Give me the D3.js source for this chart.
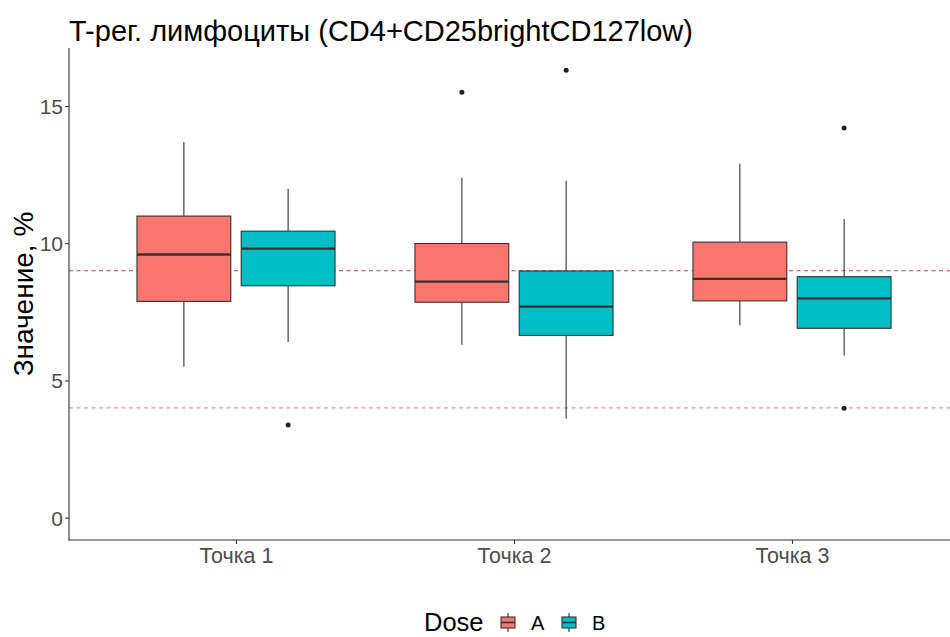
<!DOCTYPE html>
<html>
<head>
<meta charset="utf-8">
<script src="https://cdn.jsdelivr.net/npm/d3@7"></script>
<style>
  html, body { margin: 0; padding: 0; background: #fff; }
  svg { display: block; font-family: "Liberation Sans", Arial, sans-serif; }
</style>
</head>
<body>
<svg id="chart" width="950" height="637"></svg>
<script>
// Categories and groups
const categories = ["Точка 1", "Точка 2", "Точка 3"];
const doses = ["A", "B"];
const doseColors = ["#F8766D", "#00BFC4"];

// Box statistics per dose, one entry per category
const lowerA  = [5.50, 6.30, 7.00];
const q1A     = [7.88, 7.85, 7.90];
const medianA = [9.59, 8.60, 8.70];
const q3A     = [10.99, 9.99, 10.04];
const upperA  = [13.69, 12.39, 12.90];

const lowerB  = [6.40, 3.60, 5.90];
const q1B     = [8.45, 6.64, 6.90];
const medianB = [9.80, 7.69, 7.99];
const q3B     = [10.44, 8.99, 8.78];
const upperB  = [11.99, 12.28, 10.88];

// Outliers: category, dose, value
const outlierCategory = ["Точка 1", "Точка 2", "Точка 2", "Точка 3", "Точка 3"];
const outlierDose     = ["B", "A", "B", "B", "B"];
const outlierValue    = [3.38, 15.50, 16.30, 14.20, 3.99];

// Reference lines
const refValues = [9, 4];
const refColors = ["#d63c3c", "#e89898"];

const yTicks = [0, 5, 10, 15];
const titleText = "T-рег. лимфоциты (CD4+CD25brightCD127low)";
const yTitle = "Значение, %";
const legendTitle = "Dose";

// Assemble rows for drawing
const stats = [];
categories.forEach((c, i) => {
  stats.push({cat: c, dose: "A", lower: lowerA[i], q1: q1A[i], median: medianA[i], q3: q3A[i], upper: upperA[i]});
  stats.push({cat: c, dose: "B", lower: lowerB[i], q1: q1B[i], median: medianB[i], q3: q3B[i], upper: upperB[i]});
});
const outliers = outlierValue.map((v, i) => ({cat: outlierCategory[i], dose: outlierDose[i], value: v}));

const svg = d3.select("#chart");
const panel = {left: 69, top: 48, bottom: 540};
const FONT = "Liberation Sans, Arial, sans-serif";

// y domain with 5% expansion around [0, max]
const yMax = d3.max([...upperA, ...upperB, ...outlierValue]);
const pad = yMax * 0.05;
const y = d3.scaleLinear().domain([-pad, yMax + pad]).range([panel.bottom, panel.top]);

// discrete x positions
const step = 278;
const x0 = 236;
const x = d3.scalePoint().domain(categories).range([x0, x0 + step * (categories.length - 1)]);
const dodge = d3.scaleBand().domain(doses).range([-0.375 * step, 0.375 * step]).paddingInner(0);
const color = d3.scaleOrdinal().domain(doses).range(doseColors);
const boxW = 0.3375 * step;

const g = svg.append("g");

// Reference lines
g.selectAll("line.ref").data(refValues).join("line")
  .attr("class", "ref")
  .attr("x1", panel.left).attr("x2", 950)
  .attr("y1", d => y(d)).attr("y2", d => y(d))
  .attr("stroke", (d, i) => refColors[i])
  .attr("stroke-width", 1.1)
  .attr("stroke-dasharray", "4,3.5");

const cx = d => x(d.cat) + dodge(d.dose) + dodge.bandwidth() / 2;

// Whiskers
g.selectAll("line.whU").data(stats).join("line")
  .attr("x1", cx).attr("x2", cx)
  .attr("y1", d => y(d.q3)).attr("y2", d => y(d.upper))
  .attr("stroke", "#333").attr("stroke-width", 1.1);
g.selectAll("line.whL").data(stats).join("line")
  .attr("x1", cx).attr("x2", cx)
  .attr("y1", d => y(d.q1)).attr("y2", d => y(d.lower))
  .attr("stroke", "#333").attr("stroke-width", 1.1);

// Boxes
g.selectAll("rect.box").data(stats).join("rect")
  .attr("x", d => cx(d) - boxW / 2)
  .attr("width", boxW)
  .attr("y", d => y(d.q3))
  .attr("height", d => y(d.q1) - y(d.q3))
  .attr("fill", d => color(d.dose))
  .attr("stroke", "#333").attr("stroke-width", 1.1);

// Medians
g.selectAll("line.med").data(stats).join("line")
  .attr("x1", d => cx(d) - boxW / 2).attr("x2", d => cx(d) + boxW / 2)
  .attr("y1", d => y(d.median)).attr("y2", d => y(d.median))
  .attr("stroke", "#333").attr("stroke-width", 2.3);

// Outliers
g.selectAll("circle.out").data(outliers).join("circle")
  .attr("cx", cx).attr("cy", d => y(d.value))
  .attr("r", 2.5).attr("fill", "#222");

// Axes
const yAxis = d3.axisLeft(y).tickValues(yTicks).tickSize(4).tickPadding(2);
const yG = svg.append("g").attr("transform", `translate(${panel.left},0)`).call(yAxis);
yG.select(".domain").remove();
yG.selectAll(".tick line").attr("stroke", "#333").attr("stroke-width", 1.1);
yG.selectAll(".tick text").attr("fill", "#4d4d4d").style("font-size", "21px")
  .style("font-family", FONT).attr("dy", "0.36em");

const xAxis = d3.axisBottom(x).tickSize(4).tickPadding(4);
const xG = svg.append("g").attr("transform", `translate(0,${panel.bottom})`).call(xAxis);
xG.select(".domain").remove();
xG.selectAll(".tick line").attr("stroke", "#333").attr("stroke-width", 1.1);
xG.selectAll(".tick text").attr("fill", "#4d4d4d").style("font-size", "21.5px")
  .style("font-family", FONT);

// Axis lines
svg.append("line").attr("x1", panel.left).attr("x2", panel.left)
  .attr("y1", panel.top).attr("y2", panel.bottom + 0.5)
  .attr("stroke", "#333").attr("stroke-width", 1.1);
svg.append("line").attr("x1", panel.left - 0.5).attr("x2", 950)
  .attr("y1", panel.bottom).attr("y2", panel.bottom)
  .attr("stroke", "#333").attr("stroke-width", 1.1);

// Title
svg.append("text").attr("x", 69).attr("y", 41)
  .attr("fill", "#000").style("font-size", "29px")
  .text(titleText);

// Y title
svg.append("text")
  .attr("transform", `translate(33,${(panel.top + panel.bottom) / 2}) rotate(-90)`)
  .attr("text-anchor", "middle")
  .attr("fill", "#000").style("font-size", "28px")
  .text(yTitle);

// Legend
const leg = svg.append("g");
leg.append("text").attr("x", 424).attr("y", 631)
  .style("font-size", "25.5px").attr("fill", "#000").text(legendTitle);
const keyX = [501, 562];
doses.forEach((d, i) => {
  const kx = keyX[i];
  const kc = kx + 7;
  leg.append("line").attr("x1", kc).attr("x2", kc).attr("y1", 613).attr("y2", 632)
    .attr("stroke", "#333").attr("stroke-width", 1.1);
  leg.append("rect").attr("x", kx).attr("y", 617).attr("width", 14).attr("height", 11)
    .attr("fill", color(d)).attr("stroke", "#333").attr("stroke-width", 1.1);
  leg.append("line").attr("x1", kx).attr("x2", kx + 14).attr("y1", 622.5).attr("y2", 622.5)
    .attr("stroke", "#333").attr("stroke-width", 1.6);
  leg.append("text").attr("x", kx + 30).attr("y", 630)
    .style("font-size", "20px").attr("fill", "#000").text(d);
});
</script>
</body>
</html>
